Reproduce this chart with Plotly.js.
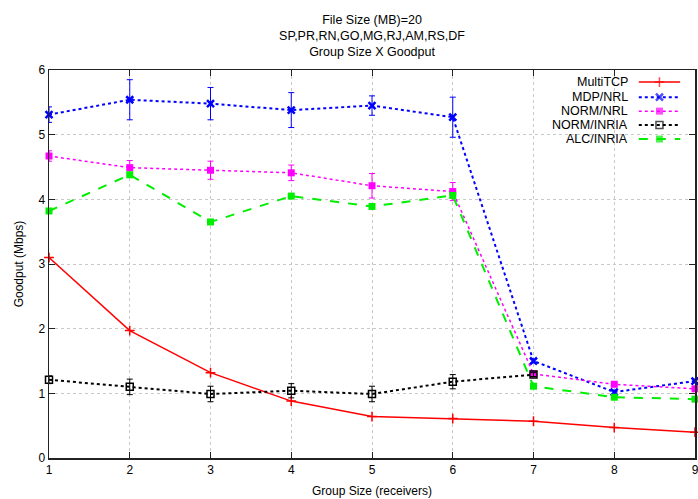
<!DOCTYPE html>
<html>
<head>
<meta charset="utf-8">
<script src="https://cdn.plot.ly/plotly-3.0.1.min.js"></script>
<style>html,body{margin:0;padding:0;background:#fff;}#chart{width:698px;height:499px;}</style>
</head>
<body>
<div id="chart"></div>
<script>
// ---- data ----
var groupSizes = [1, 2, 3, 4, 5, 6, 7, 8, 9];
var xTickLabels = ['1', '2', '3', '4', '5', '6', '7', '8', '9'];
var seriesNames = ['MultiTCP', 'MDP/NRL', 'NORM/NRL', 'NORM/INRIA', 'ALC/INRIA'];

var multiTCP      = [3.10, 1.97, 1.32, 0.88, 0.64, 0.61, 0.57, 0.47, 0.40];
var mdpNrl        = [5.31, 5.54, 5.48, 5.38, 5.45, 5.27, 1.50, 1.02, 1.19];
var mdpNrlErr     = [0.12, 0.31, 0.25, 0.27, 0.15, 0.31, 0.03, 0.03, 0.03];
var normNrl       = [4.67, 4.49, 4.45, 4.41, 4.21, 4.12, 1.30, 1.14, 1.07];
var normNrlErr    = [0.08, 0.11, 0.14, 0.12, 0.19, 0.14, 0.03, 0.03, 0.03];
var normInriaX    = [1, 2, 3, 4, 5, 6, 7];
var normInria     = [1.21, 1.10, 0.99, 1.04, 0.99, 1.18, 1.29];
var normInriaErr  = [0.06, 0.12, 0.12, 0.11, 0.12, 0.11, 0.03];
var alcInria      = [3.82, 4.38, 3.65, 4.05, 3.89, 4.06, 1.11, 0.94, 0.91];

// ---- styles ----
var FONT = 'Liberation Sans, Arial, Helvetica, sans-serif';
var styles = [
  {color: '#ff0000', dash: 'solid', width: 1.5, symbol: 'cross-thin-open', size: 7, mlw: 1.5},
  {color: '#0000ff', dash: 'dot',   width: 2,   symbol: 'x-thin-open',     size: 7, mlw: 2.5},
  {color: '#ff00ff', dash: 'dot',   width: 1.5, symbol: 'square',          size: 7, mlw: 0},
  {color: '#000000', dash: 'dot',   width: 2,   symbol: 'square-open',     size: 7, mlw: 1.5},
  {color: '#00ee00', dash: 'dash',  width: 2,   symbol: 'square',          size: 7, mlw: 0}
];

function mkTrace(i, x, y, err) {
  var s = styles[i];
  var t = {
    type: 'scatter', mode: 'lines+markers', name: seriesNames[i], showlegend: false,
    x: x, y: y,
    line: {color: s.color, dash: s.dash, width: s.width},
    marker: {symbol: s.symbol, size: s.size, color: s.color, line: {color: s.color, width: s.mlw}},
    cliponaxis: false
  };
  if (err) {
    t.error_y = {type: 'data', array: err, visible: true, color: s.color, thickness: 1, width: 3};
  }
  return t;
}

var traces = [
  mkTrace(0, groupSizes, multiTCP),
  mkTrace(1, groupSizes, mdpNrl, mdpNrlErr),
  mkTrace(2, groupSizes, normNrl, normNrlErr),
  mkTrace(3, normInriaX, normInria, normInriaErr),
  mkTrace(4, groupSizes, alcInria)
];

// ---- custom gnuplot-style key (text left, sample right) on an overlay axis ----
var keyRowsY = [0.969, 0.930, 0.894, 0.858, 0.822];
var annotations = [];
for (var i = 0; i < seriesNames.length; i++) {
  var s = styles[i];
  traces.push({
    type: 'scatter', mode: 'lines+markers', xaxis: 'x2', yaxis: 'y2', showlegend: false, hoverinfo: 'skip',
    x: [0.913, 0.945, 0.977], y: [keyRowsY[i], keyRowsY[i], keyRowsY[i]],
    line: {color: s.color, dash: s.dash, width: s.width},
    marker: {symbol: s.symbol, size: [0, s.size, 0], color: s.color, line: {color: s.color, width: s.mlw}}
  });
  annotations.push({
    xref: 'x2', yref: 'y2', x: 0.899, y: keyRowsY[i], xanchor: 'right', yanchor: 'middle',
    text: seriesNames[i], showarrow: false, font: {family: FONT, size: 12.5, color: '#000'}
  });
}

var axisCommon = {
  showline: true, linecolor: '#222', linewidth: 1.5, mirror: 'ticks',
  ticks: 'inside', ticklen: 6, tickcolor: '#222', tickwidth: 1,
  showgrid: true, gridcolor: '#c8c8c8', griddash: 'dot', gridwidth: 1,
  zeroline: false, tickfont: {family: FONT, size: 12, color: '#000'},
  ticklabeloverflow: 'allow'
};

var layout = {
  width: 698, height: 499,
  margin: {l: 49, r: 3, t: 70, b: 41},
  paper_bgcolor: '#fff', plot_bgcolor: '#fff',
  font: {family: FONT, size: 12, color: '#000'},
  title: {
    text: 'File Size (MB)=20<br>SP,PR,RN,GO,MG,RJ,AM,RS,DF<br>Group Size X Goodput',
    x: 0.533, xanchor: 'center', y: 0.952, yanchor: 'top',
    font: {family: FONT, size: 12.5, color: '#000'}
  },
  xaxis: Object.assign({}, axisCommon, {
    range: [1, 9], tickmode: 'array', tickvals: groupSizes, ticktext: xTickLabels,
    title: {text: 'Group Size (receivers)', font: {family: FONT, size: 12}, standoff: 10}
  }),
  yaxis: Object.assign({}, axisCommon, {
    range: [0, 6], dtick: 1,
    title: {text: 'Goodput (Mbps)', font: {family: FONT, size: 12}, standoff: 12}
  }),
  xaxis2: {overlaying: 'x', range: [0, 1], visible: false, fixedrange: true, anchor: 'y2'},
  yaxis2: {overlaying: 'y', range: [0, 1], visible: false, fixedrange: true, anchor: 'x2'},
  annotations: annotations,
  showlegend: false
};

Plotly.newPlot('chart', traces, layout, {displayModeBar: false, staticPlot: true});
</script>
</body>
</html>
